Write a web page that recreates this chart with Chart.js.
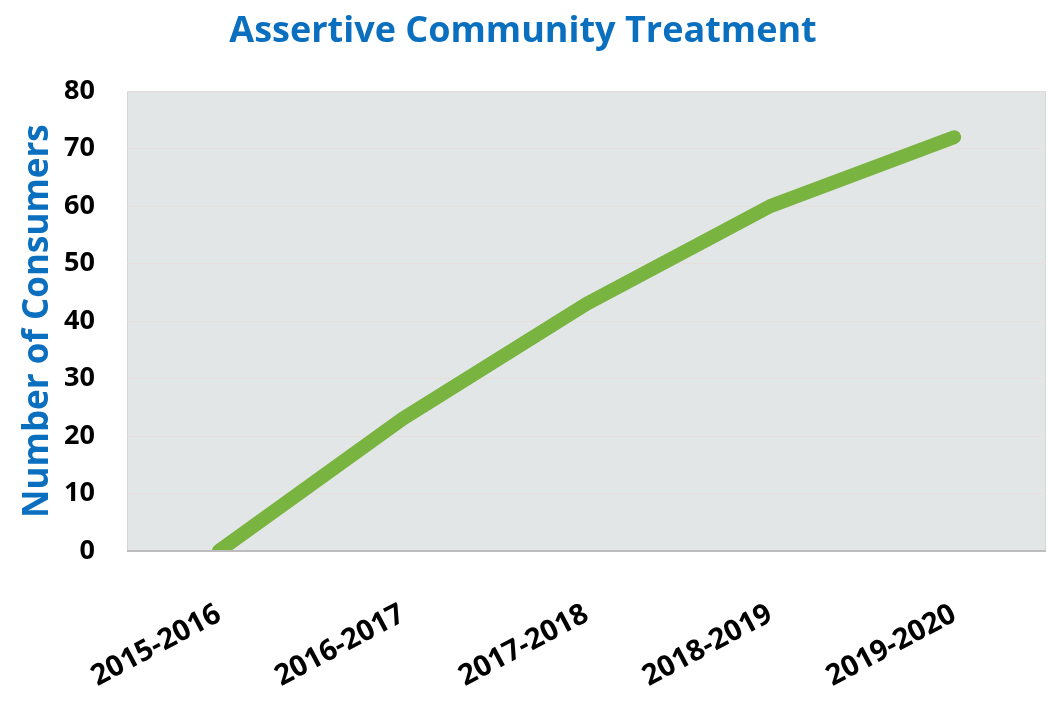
<!DOCTYPE html>
<html>
<head>
<meta charset="utf-8">
<script src="https://cdn.jsdelivr.net/npm/chart.js@4/dist/chart.umd.min.js"></script>
<style>
  html, body { margin: 0; padding: 0; background: #ffffff; }
  #wrap { width: 1051px; height: 709px; position: relative; }
</style>
</head>
<body>
<div id="wrap"><canvas id="lineChart"></canvas></div>
<script>
// Daten
let years = ['2015-2016', '2016-2017', '2017-2018', '2018-2019', '2019-2020'];
let consumers = [0, 23, 43, 60, 72];
let yTicks = [0, 10, 20, 30, 40, 50, 60, 70, 80];

// Hintergrund der Plotfläche
let plotBackground = {
  id: 'plotBackground',
  beforeDraw(chart) {
    let { ctx, chartArea: a } = chart;
    ctx.save();
    ctx.fillStyle = '#e3e6e7';
    ctx.fillRect(a.left, a.top, a.right - a.left, a.bottom - a.top);
    ctx.strokeStyle = '#d6d6d6';
    ctx.lineWidth = 1;
    ctx.strokeRect(a.left + 0.5, a.top + 0.5, a.right - a.left - 1, a.bottom - a.top - 1);
    ctx.restore();
  },
  afterDatasetsDraw(chart) {
    let { ctx, chartArea: a } = chart;
    ctx.save();
    ctx.strokeStyle = '#bdbdbd';
    ctx.lineWidth = 2;
    ctx.beginPath();
    ctx.moveTo(a.left, a.bottom);
    ctx.lineTo(a.right, a.bottom);
    ctx.stroke();
    ctx.restore();
  }
};

let config = {
  type: 'line',
  data: {
    labels: years,
    datasets: [{
      label: 'Number of Consumers',
      data: consumers,
      borderColor: '#79b340',
      borderWidth: 14,
      borderCapStyle: 'round',
      borderJoinStyle: 'round',
      pointRadius: 0,
      tension: 0,
      fill: false
    }]
  },
  options: {
    responsive: true,
    maintainAspectRatio: false,
    animation: false,
    layout: { padding: { left: 0, right: 5, top: 0, bottom: 0 } },
    plugins: {
      legend: { display: false },
      tooltip: { enabled: false },
      title: {
        display: true,
        text: 'Assertive Community Treatment',
        color: '#0a6fbf',
        font: { family: "'Open Sans', sans-serif", size: 36, weight: 'bold' },
        padding: { top: 10, bottom: 38 }
      }
    },
    scales: {
      x: {
        offset: true,
        grid: { display: false, drawTicks: false },
        border: { display: false },
        afterFit(scale) { scale.height = 158; },
        ticks: {
          color: '#000000',
          font: { family: "'Open Sans', sans-serif", size: 29, weight: 'bold' },
          maxRotation: 28,
          minRotation: 28,
          padding: 46,
          autoSkip: false
        }
      },
      y: {
        min: 0,
        max: 80,
        afterBuildTicks(scale) { scale.ticks = yTicks.map(v => ({ value: v })); },
        afterFit(scale) { scale.width = 127; },
        grid: { color: '#e9dede', lineWidth: 1, drawTicks: false },
        border: { display: false },
        ticks: {
          color: '#000000',
          font: { family: "'Open Sans', sans-serif", size: 27, weight: 'bold' },
          padding: 32
        },
        title: {
          display: true,
          text: 'Number of Consumers',
          color: '#0a6fbf',
          font: { family: "'Open Sans', sans-serif", size: 35, weight: 'bold' },
          padding: { top: 17, bottom: 0 }
        }
      }
    }
  },
  plugins: [plotBackground]
};

let ctx = document.getElementById('lineChart').getContext('2d');
let lineChart = new Chart(ctx, config);
</script>
</body>
</html>
